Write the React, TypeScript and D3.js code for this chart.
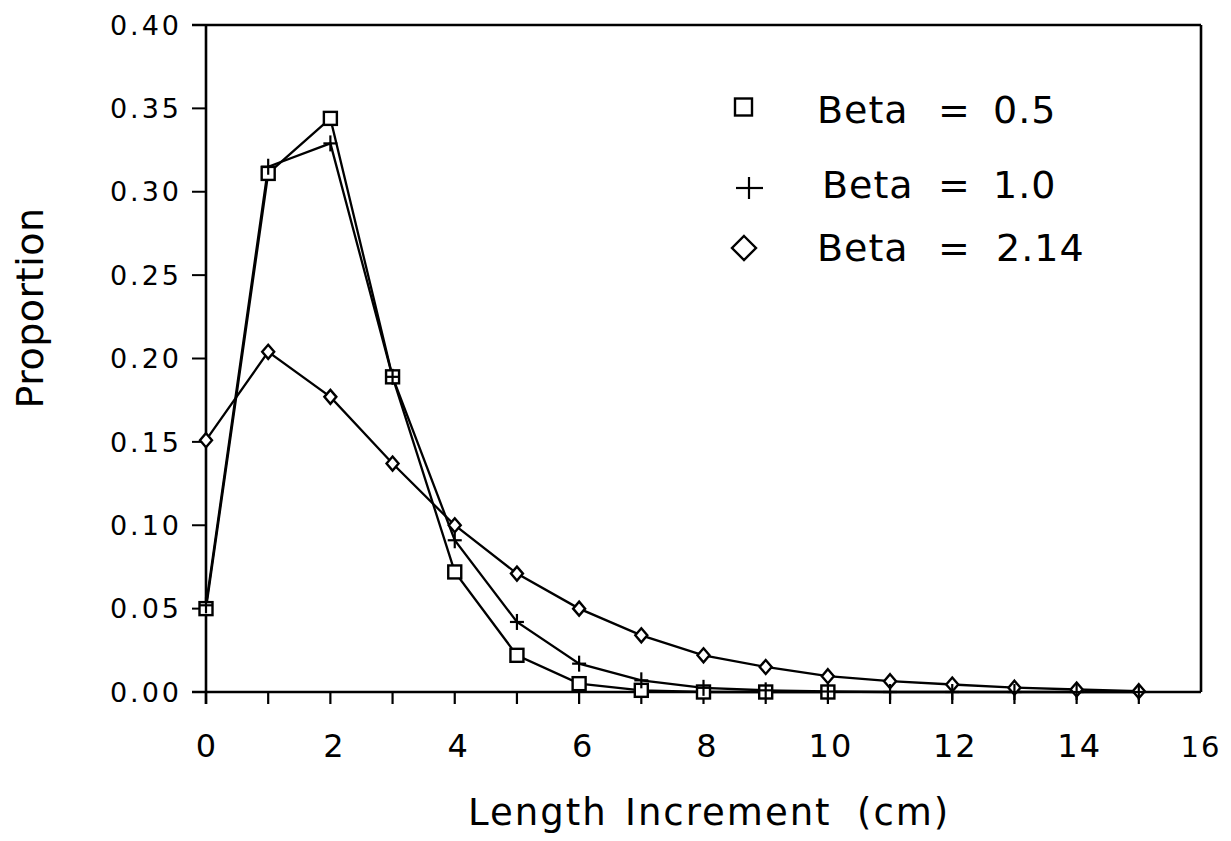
import React from "react";
import * as d3 from "d3";

const xTicks = [0, 2, 4, 6, 8, 10, 12, 14, 16];
const yTicks = [0, 0.05, 0.1, 0.15, 0.2, 0.25, 0.3, 0.35, 0.4];

const xSquares = [0, 1, 2, 3, 4, 5, 6, 7, 8, 9, 10];
const beta05 = [0.05, 0.311, 0.344, 0.189, 0.072, 0.022, 0.005, 0.001, 0.0, 0.0, 0.0];

const xPlus = [0, 1, 2, 3, 4, 5, 6, 7, 8, 9, 10, 11, 12, 13, 14, 15];
const beta10 = [0.052, 0.315, 0.329, 0.189, 0.091, 0.042, 0.017, 0.007, 0.0025, 0.001, 0.0003, 0, 0, 0, 0, 0];

const xDiamonds = [0, 1, 2, 3, 4, 5, 6, 7, 8, 9, 10, 11, 12, 13, 14, 15];
const beta214 = [0.151, 0.204, 0.177, 0.137, 0.1, 0.071, 0.05, 0.034, 0.022, 0.015, 0.0095, 0.0065, 0.0045, 0.0026, 0.0015, 0.0005];

const legendLabels = ["0.5", "1.0", "2.14"];
const xTitleWords = ["Length", "Increment", "(cm)"];

const FONT = "'DejaVu Sans', sans-serif";

export default function App() {
  const x = d3.scaleLinear().domain([0, 16]).range([206, 1201]);
  const y = d3.scaleLinear().domain([0, 0.4]).range([692, 25]);
  const line = d3
    .line<[number, number]>()
    .x((d) => x(d[0]))
    .y((d) => y(d[1]));

  const sq = xSquares.map((v, i) => [v, beta05[i]] as [number, number]);
  const pl = xPlus.map((v, i) => [v, beta10[i]] as [number, number]);
  const di = xDiamonds.map((v, i) => [v, beta214[i]] as [number, number]);

  const sqSize = 13;
  const diamondPath = (cx: number, cy: number, w: number, h: number) =>
    `M${cx},${cy - h / 2}L${cx + w / 2},${cy}L${cx},${cy + h / 2}L${cx - w / 2},${cy}Z`;

  const legendY = [107, 188, 248];
  const legendTextY = [123, 198, 261];
  const xTitleX = [468, 625, 857];

  return (
    <svg
      width={1231}
      height={841}
      style={{ position: "absolute", left: 0, top: 0, background: "#fff" }}
    >
      <rect x={0} y={0} width={1231} height={841} fill="#fff" />
      {/* frame */}
      <line x1={x(0)} x2={x(0)} y1={y(0.4)} y2={y(0) + 12} stroke="#000" strokeWidth={2.6} />
      <line x1={x(0) - 14} x2={x(16)} y1={y(0)} y2={y(0)} stroke="#000" strokeWidth={2.4} />
      <line x1={x(0) - 14} x2={x(16)} y1={y(0.4)} y2={y(0.4)} stroke="#000" strokeWidth={2.4} />
      <line x1={x(16)} x2={x(16)} y1={y(0.4)} y2={y(0)} stroke="#000" strokeWidth={2.6} />
      {/* y ticks */}
      {yTicks.map((t) => (
        <g key={"y" + t}>
          <line x1={x(0) - 14} x2={x(0)} y1={y(t)} y2={y(t)} stroke="#000" strokeWidth={2} />
          <text
            x={182}
            y={y(t)}
            dy="0.36em"
            textAnchor="end"
            fontFamily={FONT}
            fontSize={27}
            letterSpacing={3}
          >
            {t.toFixed(2)}
          </text>
        </g>
      ))}
      {/* x ticks */}
      {d3.range(0, 16).map((t) => (
        <line key={"xt" + t} x1={x(t)} x2={x(t)} y1={y(0)} y2={y(0) + 12} stroke="#000" strokeWidth={2.2} />
      ))}
      {xTicks.map((t) => (
        <text
          key={"xl" + t}
          x={x(t) + (t > 0 && t < 16 ? 3 : 0)}
          y={757}
          textAnchor="middle"
          fontFamily={FONT}
          fontSize={t === 16 ? 29 : 32}
          letterSpacing={t >= 10 ? 2 : 0}
        >
          {t}
        </text>
      ))}
      {/* axis titles */}
      <text y={825} fontFamily={FONT} fontSize={37} letterSpacing={2}>
        {xTitleWords.map((w, i) => (
          <tspan key={w} x={xTitleX[i]}>
            {w}
          </tspan>
        ))}
      </text>
      <text
        transform={`translate(43,308) rotate(-90)`}
        textAnchor="middle"
        fontFamily={FONT}
        fontSize={38}
        letterSpacing={0.5}
      >
        Proportion
      </text>

      {/* lines */}
      <path d={line(di) || ""} fill="none" stroke="#000" strokeWidth={2.3} />
      <path d={line(pl) || ""} fill="none" stroke="#000" strokeWidth={2.3} />
      <path d={line(sq) || ""} fill="none" stroke="#000" strokeWidth={2.3} />

      {/* markers */}
      {di.map((d, i) => (
        <path
          key={"d" + i}
          d={diamondPath(x(d[0]), y(d[1]), 12, 14)}
          fill="#fff"
          stroke="#000"
          strokeWidth={2.4}
        />
      ))}
      {sq.map((d, i) => (
        <rect
          key={"s" + i}
          x={x(d[0]) - sqSize / 2}
          y={y(d[1]) - sqSize / 2}
          width={sqSize}
          height={sqSize}
          fill="#fff"
          stroke="#000"
          strokeWidth={2.4}
        />
      ))}
      {pl.map((d, i) => (
        <g key={"p" + i} stroke="#000" strokeWidth={2.2}>
          <line x1={x(d[0]) - 7} x2={x(d[0]) + 7} y1={y(d[1])} y2={y(d[1])} />
          <line x1={x(d[0])} x2={x(d[0])} y1={y(d[1]) - 8} y2={y(d[1]) + 8} />
        </g>
      ))}

      {/* legend */}
      <rect x={735} y={legendY[0] - 8.5} width={17} height={17} fill="#fff" stroke="#000" strokeWidth={2.4} />
      <g stroke="#000" strokeWidth={2.2}>
        <line x1={736} x2={763} y1={legendY[1]} y2={legendY[1]} />
        <line x1={749} x2={749} y1={legendY[1] - 11} y2={legendY[1] + 11} />
      </g>
      <path d={diamondPath(744, legendY[2], 24, 24)} fill="#fff" stroke="#000" strokeWidth={2.4} />
      {legendLabels.map((lab, i) => (
        <text key={"lg" + i} y={legendTextY[i]} fontFamily={FONT} fontSize={38} letterSpacing={1}>
          <tspan x={i === 1 ? 822 : 817}>Beta</tspan>
          <tspan x={938}>=</tspan>
          <tspan x={i === 2 ? 996 : 993}>{lab}</tspan>
        </text>
      ))}
    </svg>
  );
}
